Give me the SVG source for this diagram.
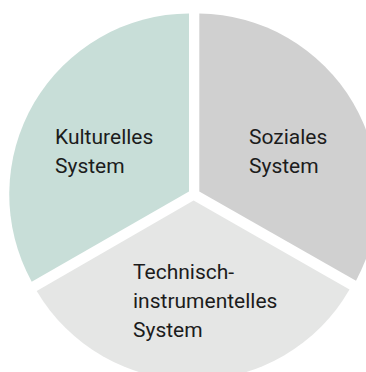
<svg xmlns="http://www.w3.org/2000/svg" width="366" height="372" viewBox="0 0 366 372">
<style>
.lbl{font-family:Roboto,"Liberation Sans",Arial,sans-serif;font-size:21px;fill:#1c1c1c}
.kult{fill:#c8ded8}
.soz{fill:#d0d0d0}
.tech{fill:#e5e6e5}
</style>
<rect width="366" height="372" fill="#ffffff"/>
<g id="kulturelles">
<path class="kult" d="M189 191.6 L189 13.4 A181 181 0 0 0 31.7 281.7 Z"/>
<text class="lbl" x="55" y="144">Kulturelles</text>
<text class="lbl" x="55" y="173">System</text>
</g>
<g id="soziales">
<path class="soz" d="M199.3 191.6 L199.3 13.4 A181 181 0 0 1 356 280.7 Z"/>
<text class="lbl" x="249" y="144">Soziales</text>
<text class="lbl" x="249" y="173">System</text>
</g>
<g id="technisch">
<path class="tech" d="M193.6 200.5 L36.7 291 A181 181 0 0 0 349.5 289.5 Z"/>
<text class="lbl" x="133" y="279">Technisch-</text>
<text class="lbl" x="133" y="308">instrumentelles</text>
<text class="lbl" x="133" y="337">System</text>
</g>
<g id="connectors"/>
</svg>
